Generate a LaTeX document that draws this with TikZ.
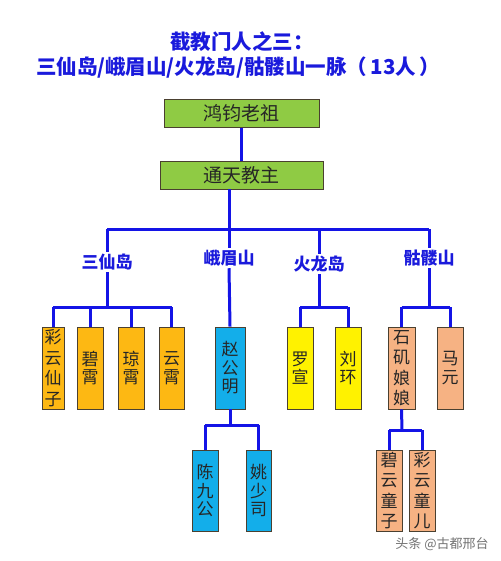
\documentclass[tikz,border=0pt]{standalone}
\usepackage{fontspec}
\newfontfamily\cjk{Noto Sans CJK SC}
\definecolor{lineblue}{HTML}{1414E6}
\definecolor{titleblue}{HTML}{1A1ADC}
\definecolor{cgreen}{HTML}{8FCB44}
\definecolor{corange}{HTML}{FDB813}
\definecolor{cblue}{HTML}{13AEEA}
\definecolor{cyellow}{HTML}{FFF200}
\definecolor{csalmon}{HTML}{F6B283}
\definecolor{cborder}{HTML}{4A4030}
\tikzset{
  conn/.style={draw=lineblue, line width=3pt},
  topbox/.style={draw=cborder, line width=0.9pt, fill=cgreen, inner sep=0pt, minimum height=28pt, font=\cjk\fontsize{19}{21}\selectfont, text=black!85},
  vbox/.style={draw=cborder, line width=0.9pt, inner sep=0pt, minimum height=82pt, align=center, text=black!85},
  vtext/.style={font=\cjk\fontsize{17}{18.5}\selectfont},
  vtextf/.style={font=\cjk\fontsize{17}{20.5}\selectfont},
  grp/.style={font=\cjk\bfseries\fontsize{17}{19}\selectfont, text=titleblue, inner sep=2pt, fill=white},
  ttl/.style={font=\cjk\bfseries\fontsize{20.5}{23}\selectfont, text=titleblue, inner sep=0pt}
}
\begin{document}
\begin{tikzpicture}[x=1pt,y=-1pt]
\useasboundingbox[fill=white] (0,0) rectangle (500,561);
% title
\node[ttl] (t1) at (242,42) {截教门人之三：};
\node[ttl] (t2) at (238,68) {三仙岛/峨眉山/火龙岛/骷髅山一脉（\,13人\,）};
% top boxes
\node[topbox, minimum width=155pt] (hj) at (241.5,113.5) {鸿钧老祖};
\node[topbox, minimum width=163pt] (tt) at (241.5,175) {通天教主};
% coordinates
\coordinate (j0) at (229,229);
\coordinate (b1) at (107,229);
\coordinate (b3) at (319,229);
\coordinate (b4) at (429,229);
\coordinate (s1) at (107,307);
\coordinate (s3) at (319,307);
\coordinate (s4) at (429,307);
\coordinate (t2c) at (230,425);
\coordinate (t4c) at (402,430);
% group labels
\node[grp] (l1) at (107,262) {三仙岛};
\node[grp] (l2) at (229,258) {峨眉山};
\node[grp] (l3) at (319,264) {火龙岛};
\node[grp] (l4) at (429,258) {骷髅山};
% level boxes
\node[vbox, fill=corange, minimum width=22pt, vtextf] (cyxz) at (53,368) {彩\\云\\仙\\子};
\node[vbox, fill=corange, minimum width=26pt, vtext] (bx) at (90,368) {碧\\霄};
\node[vbox, fill=corange, minimum width=26pt, vtext] (qx) at (131,368) {琼\\霄};
\node[vbox, fill=corange, minimum width=25pt, vtext] (yx) at (171.5,368) {云\\霄};
\node[vbox, fill=cblue, minimum width=30pt, vtext] (zgm) at (230,368) {赵\\公\\明};
\node[vbox, fill=cyellow, minimum width=26pt, vtext] (lx) at (300,368) {罗\\宣};
\node[vbox, fill=cyellow, minimum width=26pt, vtext] (lh) at (348,368) {刘\\环};
\node[vbox, fill=csalmon, minimum width=27pt, vtextf] (sj) at (401.5,368) {石\\矶\\娘\\娘};
\node[vbox, fill=csalmon, minimum width=26pt, vtext] (my) at (450,368) {马\\元};
% bottom boxes
\node[vbox, fill=cblue, minimum width=26pt, minimum height=81pt, vtext] (cjg) at (205,490.5) {陈\\九\\公};
\node[vbox, fill=cblue, minimum width=25pt, minimum height=81pt, vtext] (ysz) at (258.5,490.5) {姚\\少\\司};
\node[vbox, fill=csalmon, minimum width=26pt, minimum height=81pt, vtextf] (bytz) at (389,490.5) {碧\\云\\童\\子};
\node[vbox, fill=csalmon, minimum width=26pt, minimum height=81pt, vtextf] (cyte) at (422,490.5) {彩\\云\\童\\儿};
% connectors
\draw[conn] (hj) -- (tt);
\draw[conn] (tt.south -| j0) -- (j0);
\draw[conn] (b1) -- (b4);
\draw[conn] (b1) -- (l1.north);
\draw[conn] (j0) -- (l2.north);
\draw[conn] (b3) -- (l3.north);
\draw[conn] (b4) -- (l4.north);
% group 1
\draw[conn] (l1.south) -- (s1);
\draw[conn] (s1 -| cyxz.north) -- (s1 -| yx.north);
\foreach \n in {cyxz,bx,qx,yx} \draw[conn] (s1 -| \n.north) -- (\n.north);
% group 2
\draw[conn] (l2.south) -- (zgm.north);
% group 3
\draw[conn] (l3.south) -- (s3);
\draw[conn] (s3 -| lx.north) -- (s3 -| lh.north);
\foreach \n in {lx,lh} \draw[conn] (s3 -| \n.north) -- (\n.north);
% group 4
\draw[conn] (l4.south) -- (s4);
\draw[conn] (s4 -| sj.north) -- (s4 -| my.north);
\foreach \n in {sj,my} \draw[conn] (s4 -| \n.north) -- (\n.north);
% bottom
\draw[conn] (zgm.south) -- (t2c);
\draw[conn] (t2c -| cjg.north) -- (t2c -| ysz.north);
\foreach \n in {cjg,ysz} \draw[conn] (t2c -| \n.north) -- (\n.north);
\draw[conn] (sj.south) -- (t4c);
\draw[conn] (t4c -| bytz.north) -- (t4c -| cyte.north);
\foreach \n in {bytz,cyte} \draw[conn] (t4c -| \n.north) -- (\n.north);
% watermark
\node[font=\cjk\fontsize{13}{15}\selectfont, text=black!55] (wm) at (442,544) {头条 @古都邢台};
\end{tikzpicture}
\end{document}
